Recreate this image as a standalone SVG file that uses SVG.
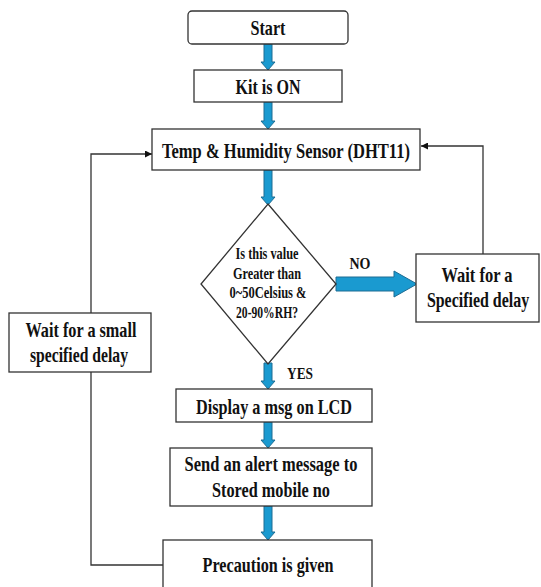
<svg xmlns="http://www.w3.org/2000/svg" width="541" height="587" viewBox="0 0 541 587">
<style>
.box{fill:#fff;stroke:#333;stroke-width:1.3}
.t{font-family:"Liberation Serif","Times New Roman",serif;font-weight:bold;font-size:22px;fill:#111;text-anchor:middle}
.s{font-size:16px}
.blue{fill:#1A9AD0;stroke:#1D6C93;stroke-width:1}
.line{fill:none;stroke:#333;stroke-width:1.3}
</style>
<defs>
<marker id="ah" viewBox="0 0 10 10" refX="10" refY="5" markerWidth="7" markerHeight="7" markerUnits="userSpaceOnUse" orient="auto">
<path d="M0,0 L10,5 L0,10 Z" fill="#111"/>
</marker>
</defs>
<rect width="541" height="587" fill="#fff"/>
<g id="connectors">
<path class="blue" d="M264,44 H272 V62 H275 L268,70 L261,62 H264 Z"/>
<path class="blue" d="M264,102 H272 V121 H275 L268,129 L261,121 H264 Z"/>
<path class="blue" d="M264,170 H272 V197 H275 L268,205 L261,197 H264 Z"/>
<path class="blue" d="M264,363 H272 V381 H275 L268,389 L261,381 H264 Z"/>
<path class="blue" d="M264,422 H272 V440 H275 L268,448 L261,440 H264 Z"/>
<path class="blue" d="M264,506 H272 V532 H275 L268,540 L261,532 H264 Z"/>
<path class="blue" d="M336,277 H394 V271 L417,284 L394,297 V291 H336 Z"/>
<path class="line" d="M483,254 V146 H421" marker-end="url(#ah)"/>
<path class="line" d="M163,565 H91 V372"/>
<path class="line" d="M91,313 V154 H152" marker-end="url(#ah)"/>
<text class="t s" x="360" y="269" textLength="21" lengthAdjust="spacingAndGlyphs">NO</text>
<text class="t s" x="300" y="379" textLength="26" lengthAdjust="spacingAndGlyphs">YES</text>
</g>
<g id="start">
<rect class="box" x="188" y="11" width="160" height="33" rx="4"/>
<text class="t" x="268" y="35" textLength="35" lengthAdjust="spacingAndGlyphs">Start</text>
</g>
<g id="kit">
<rect class="box" x="194" y="70" width="148" height="32"/>
<text class="t" x="268" y="94" textLength="65" lengthAdjust="spacingAndGlyphs">Kit is ON</text>
</g>
<g id="sensor">
<rect class="box" x="152" y="129" width="268" height="41"/>
<text class="t" x="286" y="158" textLength="248" lengthAdjust="spacingAndGlyphs">Temp &amp; Humidity Sensor (DHT11)</text>
</g>
<g id="decision">
<polygon class="box" points="268,204 336,284 268,364 201,284"/>
<text class="t s" x="267" y="259" textLength="63" lengthAdjust="spacingAndGlyphs">Is this value</text>
<text class="t s" x="267" y="279" textLength="68" lengthAdjust="spacingAndGlyphs">Greater than</text>
<text class="t s" x="268" y="298" textLength="77" lengthAdjust="spacingAndGlyphs">0~50Celsius &amp;</text>
<text class="t s" x="267" y="318" textLength="62" lengthAdjust="spacingAndGlyphs">20-90%RH?</text>
</g>
<g id="wait">
<rect class="box" x="416" y="254" width="123" height="68"/>
<text class="t" x="477" y="282" textLength="71" lengthAdjust="spacingAndGlyphs">Wait for a</text>
<text class="t" transform="translate(478,307) scale(0.72,1)" x="0" y="0" textLength="142" lengthAdjust="spacingAndGlyphs">Specified delay</text>
</g>
<g id="waitsmall">
<rect class="box" x="9" y="313" width="142" height="59"/>
<text class="t" x="81" y="337" textLength="111" lengthAdjust="spacingAndGlyphs">Wait for a small</text>
<text class="t" x="79" y="362" textLength="98" lengthAdjust="spacingAndGlyphs">specified delay</text>
</g>
<g id="display">
<rect class="box" x="176" y="389" width="196" height="33"/>
<text class="t" x="274" y="414" textLength="156" lengthAdjust="spacingAndGlyphs">Display a msg on LCD</text>
</g>
<g id="send">
<rect class="box" x="170" y="448" width="202" height="58"/>
<text class="t" x="271" y="471" textLength="173" lengthAdjust="spacingAndGlyphs">Send an alert message to</text>
<text class="t" x="271" y="497" textLength="118" lengthAdjust="spacingAndGlyphs">Stored mobile no</text>
</g>
<g id="precaution">
<rect class="box" x="163" y="540" width="209" height="52"/>
<text class="t" x="268" y="572" textLength="131" lengthAdjust="spacingAndGlyphs">Precaution is given</text>
</g>
</svg>
